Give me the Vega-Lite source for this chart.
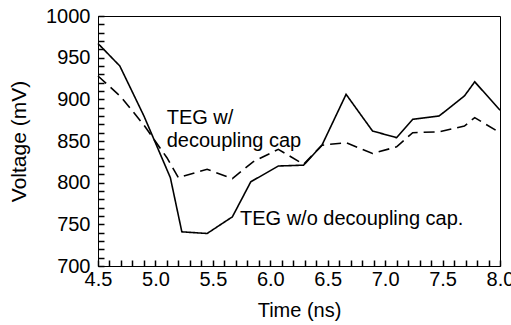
{
  "$schema": "https://vega.github.io/schema/vega-lite/v6.json",
  "width": 402,
  "height": 250,
  "autosize": {"type": "none"},
  "padding": {"left": 98, "top": 16, "right": 11, "bottom": 59},
  "background": "white",
  "config": {
    "font": "Liberation Sans",
    "view": {"stroke": "black", "strokeWidth": 1},
    "axis": {
      "grid": false,
      "zindex": 1,
      "ticks": true,
      "domainColor": "black",
      "domainWidth": 1,
      "tickColor": "black",
      "tickOpacity": 1,
      "tickWidth": 1.5,
      "tickSize": -6,
      "labelColor": "black",
      "labelFontSize": 20,
      "labelFlush": false,
      "labelOverlap": false,
      "labelBound": false,
      "titleColor": "black",
      "titleFontSize": 20,
      "titleFontWeight": "normal"
    }
  },
  "layer": [
    {
      "data": {
        "values": [
          {"t": 4.5, "v": 967, "series": "w/o"},
          {"t": 4.69, "v": 940, "series": "w/o"},
          {"t": 4.9, "v": 880, "series": "w/o"},
          {"t": 5.13, "v": 806, "series": "w/o"},
          {"t": 5.23, "v": 741, "series": "w/o"},
          {"t": 5.45, "v": 739, "series": "w/o"},
          {"t": 5.67, "v": 759, "series": "w/o"},
          {"t": 5.83, "v": 801, "series": "w/o"},
          {"t": 6.07, "v": 820, "series": "w/o"},
          {"t": 6.29, "v": 821, "series": "w/o"},
          {"t": 6.45, "v": 845, "series": "w/o"},
          {"t": 6.66, "v": 906, "series": "w/o"},
          {"t": 6.89, "v": 862, "series": "w/o"},
          {"t": 7.1, "v": 854, "series": "w/o"},
          {"t": 7.24, "v": 876, "series": "w/o"},
          {"t": 7.47, "v": 880, "series": "w/o"},
          {"t": 7.69, "v": 904, "series": "w/o"},
          {"t": 7.78, "v": 921, "series": "w/o"},
          {"t": 8.0, "v": 887, "series": "w/o"},
          {"t": 4.5, "v": 928, "series": "w/"},
          {"t": 4.7, "v": 903, "series": "w/"},
          {"t": 4.9, "v": 869, "series": "w/"},
          {"t": 5.1, "v": 830, "series": "w/"},
          {"t": 5.2, "v": 806, "series": "w/"},
          {"t": 5.45, "v": 816, "series": "w/"},
          {"t": 5.67, "v": 805, "series": "w/"},
          {"t": 5.85, "v": 825, "series": "w/"},
          {"t": 6.07, "v": 840, "series": "w/"},
          {"t": 6.29, "v": 822, "series": "w/"},
          {"t": 6.45, "v": 845, "series": "w/"},
          {"t": 6.66, "v": 848, "series": "w/"},
          {"t": 6.89, "v": 835, "series": "w/"},
          {"t": 7.1, "v": 843, "series": "w/"},
          {"t": 7.24, "v": 860, "series": "w/"},
          {"t": 7.47, "v": 861, "series": "w/"},
          {"t": 7.69, "v": 868, "series": "w/"},
          {"t": 7.78, "v": 878, "series": "w/"},
          {"t": 8.0, "v": 860, "series": "w/"}
        ]
      },
      "mark": {"type": "line", "color": "black", "strokeWidth": 1.6},
      "encoding": {
        "x": {
          "field": "t",
          "type": "quantitative",
          "scale": {"domain": [4.5, 8.0], "nice": false, "zero": false},
          "axis": {
            "title": "Time (ns)",
            "values": [4.5, 4.6, 4.7, 4.8, 4.9, 5.0, 5.1, 5.2, 5.3, 5.4, 5.5, 5.6, 5.7, 5.8, 5.9, 6.0, 6.1, 6.2, 6.3, 6.4, 6.5, 6.6, 6.7, 6.8, 6.9, 7.0, 7.1, 7.2, 7.3, 7.4, 7.5, 7.6, 7.7, 7.8, 7.9, 8.0],
            "tickCount": 1000,
            "labelExpr": "abs(datum.value*2 - round(datum.value*2)) < 0.001 ? format(datum.value, '.1f') : ''",
            "labelOverlap": false,
            "labelPadding": 9,
            "titlePadding": 11
          }
        },
        "y": {
          "field": "v",
          "type": "quantitative",
          "scale": {"domain": [700, 1000], "nice": false, "zero": false},
          "axis": {
            "title": "Voltage (mV)",
            "values": [700, 710, 720, 730, 740, 750, 760, 770, 780, 790, 800, 810, 820, 830, 840, 850, 860, 870, 880, 890, 900, 910, 920, 930, 940, 950, 960, 970, 980, 990, 1000],
            "tickCount": 1000,
            "labelExpr": "datum.value % 50 == 0 ? format(datum.value, 'd') : ''",
            "labelOverlap": false,
            "labelPadding": 14,
            "titlePadding": 16,
            "titleFontSize": 21
          }
        },
        "strokeDash": {
          "field": "series",
          "type": "nominal",
          "scale": {"domain": ["w/o", "w/"], "range": [[1, 0], [11, 6]]},
          "legend": null
        }
      }
    },
    {
      "data": {
        "values": [
          {"t": 5.098, "v": 871, "label": "TEG w/"},
          {"t": 5.098, "v": 843, "label": "decoupling cap"},
          {"t": 5.736, "v": 749, "label": "TEG w/o decoupling cap."}
        ]
      },
      "mark": {"type": "text", "align": "left", "baseline": "alphabetic", "fontSize": 20, "color": "black"},
      "encoding": {
        "x": {"field": "t", "type": "quantitative"},
        "y": {"field": "v", "type": "quantitative"},
        "text": {"field": "label"}
      }
    }
  ]
}
